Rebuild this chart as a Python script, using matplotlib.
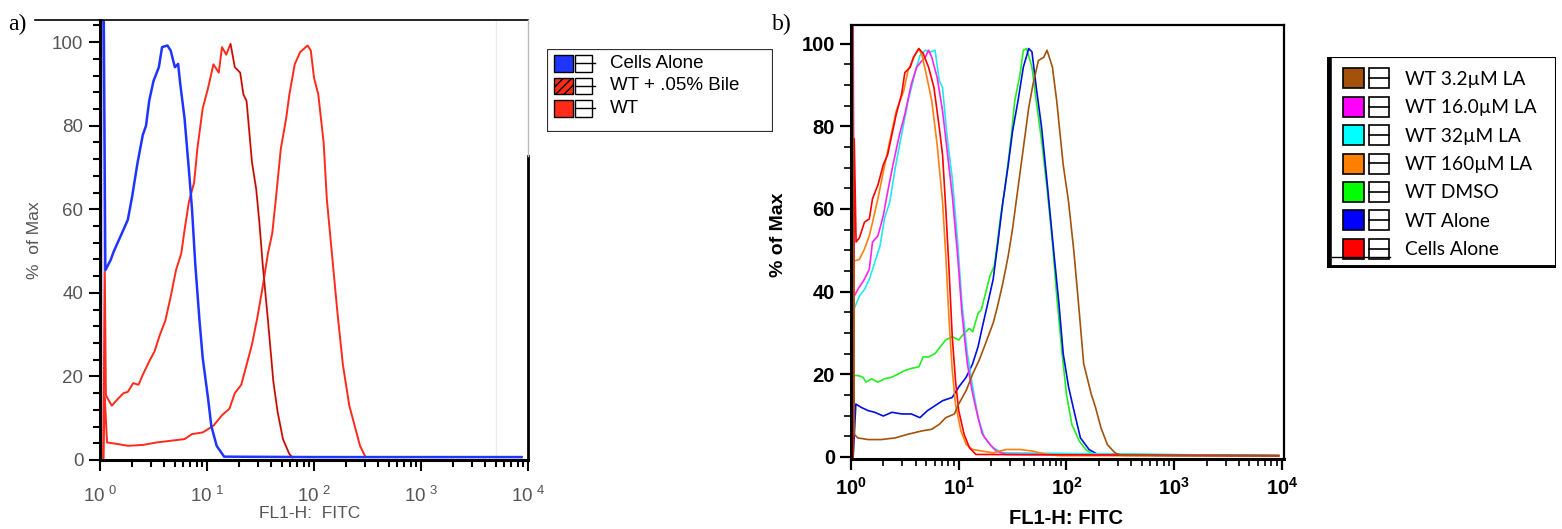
import matplotlib
matplotlib.use("Agg")
import matplotlib.pyplot as plt
from matplotlib.patches import Rectangle
from matplotlib.lines import Line2D
from matplotlib.ticker import FixedLocator, MultipleLocator, NullFormatter
import numpy as np

plt.rcParams["font.family"] = ["Liberation Sans", "DejaVu Sans"]
plt.rcParams["mathtext.fontset"] = "custom"
plt.rcParams["mathtext.rm"] = "Liberation Sans"
plt.rcParams["mathtext.bf"] = "Liberation Sans:bold"

# ---------------- data: panel a (x = log10 FL1-H, y = % of Max) ----------------
a_cells_x = [0.0, 0.01, 0.035, 0.05, 0.1, 0.13, 0.2, 0.26, 0.3, 0.35, 0.4, 0.43, 0.46, 0.5,
             0.55, 0.58, 0.63, 0.66, 0.7, 0.73, 0.75, 0.79, 0.83, 0.86, 0.89, 0.93, 0.96,
             1.01, 1.04, 1.09, 1.16, 2.0, 3.0, 3.94]
a_cells_y = [0, 106, 106, 45.4, 47.9, 50, 54, 57.5, 63, 71, 77.8, 80, 86, 90.7,
             94, 98.8, 99.2, 98, 94, 94.8, 90, 81.8, 69.7, 60, 47, 33.3, 24.4,
             14.7, 8.2, 3.4, 0.8, 0.7, 0.7, 0.7]

a_bile_x = [0.03, 0.045, 0.055, 0.11, 0.17, 0.22, 0.26, 0.31, 0.36, 0.4, 0.46, 0.51, 0.56,
            0.61, 0.66, 0.71, 0.76, 0.79, 0.83, 0.88, 0.91, 0.96, 1.01, 1.06, 1.11, 1.14,
            1.18, 1.22, 1.26, 1.31, 1.34, 1.37, 1.42, 1.46, 1.49, 1.52, 1.57, 1.62, 1.66,
            1.71, 1.77, 1.8]
a_bile_y = [0, 45, 15.5, 13, 14.7, 16, 16.3, 18.4, 18, 20.4, 23.6, 26, 30,
            33.3, 39, 45.4, 49.5, 55, 61.6, 66.5, 74.5, 84.2, 89, 94.7, 92.7, 98.8,
            97, 99.6, 94, 92.7, 87.5, 85.9, 71.3, 64.8, 56.7, 47, 33.3, 18.8, 11.5,
            5, 1.4, 0.6]

a_wt_x = [0.03, 0.045, 0.066, 0.17, 0.26, 0.4, 0.53, 0.66, 0.79, 0.86, 0.96, 1.06, 1.14,
          1.21, 1.26, 1.32, 1.37, 1.42, 1.47, 1.52, 1.57, 1.61, 1.64, 1.69, 1.74, 1.77,
          1.82, 1.87, 1.94, 1.97, 2.0, 2.04, 2.09, 2.12, 2.17, 2.22, 2.27, 2.33, 2.38,
          2.43, 2.48]
a_wt_y = [0, 15, 4.2, 3.8, 3.4, 3.6, 4.2, 4.6, 5, 6.2, 6.6, 8.2, 10.7,
          12.3, 16, 18, 22.8, 27.6, 34, 41.4, 49.5, 54.3, 61.6, 74.5, 81.8, 87.5,
          94.7, 97.6, 99.2, 98, 91.5, 87.5, 76, 62.4, 48.7, 35, 22.8, 13, 8.2,
          3.4, 0.8]

a_labels = ["Cells Alone", "WT + .05% Bile", "WT"]
a_colors = ["#1f35ff", "#ff2a1a", "#ff2a1a"]

# ---------------- data: panel b ----------------
b_la32_x = [0.0, 0.005, 0.015, 0.03, 0.063, 0.16, 0.28, 0.41, 0.53, 0.66, 0.75, 0.82, 0.88,
            0.96, 1.0, 1.07, 1.13, 1.19, 1.25, 1.32, 1.36, 1.41, 1.46, 1.5, 1.55, 1.6,
            1.65, 1.69, 1.74, 1.79, 1.82, 1.87, 1.91, 1.97, 2.02, 2.07, 2.12, 2.16, 2.23,
            2.27, 2.32, 2.38, 2.45, 2.51, 3.0, 3.97]
b_la32_y = [0, 106, 106, 5.5, 4.6, 4.2, 4.2, 4.6, 5.5, 6.3, 6.7, 7.9, 9.5,
            10.4, 12.8, 16.1, 20.1, 23.4, 27.5, 32.4, 36.4, 42.1, 48.7, 55.2, 65, 74.7,
            84.5, 90.2, 95.9, 96.7, 98.4, 94.3, 86.1, 70.7, 61.7, 49.5, 34.8, 22.6, 15.2,
            12, 7.1, 3, 1, 0.4, 0.3, 0.3]

b_la16_x = [0.01, 0.02, 0.03, 0.063, 0.125, 0.17, 0.2, 0.25, 0.3, 0.34, 0.39, 0.45, 0.5,
            0.56, 0.61, 0.66, 0.69, 0.72, 0.75, 0.8, 0.85, 0.89, 0.94, 0.99, 1.03, 1.08,
            1.13, 1.18, 1.22, 1.29, 1.35, 1.44, 2.5, 3.97]
b_la16_y = [0, 106, 38.9, 40.5, 43, 45.4, 52, 53.5, 58.4, 64.1, 70.7, 78, 82.9,
            90.2, 94.3, 95.9, 96.7, 98.4, 96.7, 91.8, 83.7, 74.7, 63.3, 48.7, 34.8, 22.6,
            15.2, 9.5, 5.5, 3, 1.4, 0.6, 0.4, 0.3]

b_la32b_x = [0.015, 0.025, 0.078, 0.125, 0.17, 0.22, 0.27, 0.31, 0.36, 0.41, 0.47, 0.53, 0.6,
             0.64, 0.69, 0.74, 0.78, 0.82, 0.85, 0.89, 0.94, 0.99, 1.03, 1.08, 1.13, 1.18,
             1.24, 1.32, 1.41, 3.97]
b_la32b_y = [0, 35.6, 38.9, 40.5, 43, 47, 51.1, 57.6, 61.7, 69.8, 78, 86.1, 93.5,
             97.1, 98.4, 98, 98.4, 91, 89.4, 78, 67.4, 52, 37.2, 25, 16.9, 9.5,
             4.6, 2.2, 1, 0.3]

b_la160_x = [0.02, 0.03, 0.078, 0.125, 0.17, 0.2, 0.25, 0.3, 0.36, 0.42, 0.49, 0.53, 0.6,
             0.63, 0.66, 0.705, 0.75, 0.8, 0.85, 0.88, 0.91, 0.94, 0.97, 1.02, 1.07, 1.13,
             1.22, 1.32, 1.44, 1.57, 1.69, 1.82, 1.94, 3.97]
b_la160_y = [0, 47.4, 47.8, 50.3, 53.5, 56.8, 62.5, 69, 76.4, 83.7, 88.6, 93.5, 97.6,
             98.8, 97.1, 91.8, 86.1, 75.5, 61.7, 48.7, 33.2, 21, 12.8, 6.3, 3, 1.8,
             1.4, 1.0, 1.8, 1.8, 1.4, 0.6, 0.3, 0.3]

b_dmso_x = [0.02, 0.03, 0.063, 0.11, 0.14, 0.19, 0.25, 0.31, 0.38, 0.44, 0.5, 0.56, 0.63,
            0.67, 0.72, 0.78, 0.83, 0.88, 0.94, 1.0, 1.05, 1.1, 1.13, 1.18, 1.21, 1.25,
            1.29, 1.33, 1.36, 1.39, 1.43, 1.46, 1.49, 1.52, 1.57, 1.6, 1.63, 1.68, 1.72,
            1.77, 1.82, 1.87, 1.91, 1.96, 2.0, 2.05, 2.12, 2.18, 2.24, 3.97]
b_dmso_y = [0, 19.7, 19.7, 19.3, 18.1, 18.9, 18.1, 18.9, 19.3, 20.1, 20.9, 21.4, 21.8,
            24.2, 24.2, 25, 26.7, 28.3, 29.1, 28.3, 29.9, 31.1, 30.3, 34.8, 35.6, 39.7,
            43.8, 46.2, 51.9, 58.4, 65, 71.5, 78, 86.1, 92.7, 98.4, 98.8, 94.3, 86.1,
            76.4, 65, 51.9, 38.9, 25, 15.2, 7.9, 3.8, 1.8, 0.7, 0.3]

b_wtal_x = [0.02, 0.045, 0.094, 0.16, 0.22, 0.3, 0.38, 0.47, 0.56, 0.64, 0.71, 0.78, 0.85,
            0.94, 1.0, 1.07, 1.13, 1.18, 1.22, 1.27, 1.32, 1.36, 1.41, 1.46, 1.5, 1.55,
            1.6, 1.65, 1.68, 1.72, 1.77, 1.82, 1.88, 1.93, 1.97, 2.02, 2.07, 2.13, 2.21,
            2.29, 3.97]
b_wtal_y = [0, 12.8, 12, 11.2, 10.8, 9.9, 10.8, 10.4, 10.4, 9.5, 11.2, 12.4, 13.6,
            14.4, 16.9, 19.3, 22.6, 26.7, 31.5, 37.2, 43, 51.1, 61.7, 70.7, 78.8, 86.1,
            94.3, 98.8, 98, 89.4, 79.6, 66.6, 50.3, 37.2, 25, 16.9, 11.2, 4.6, 1.8,
            0.6, 0.3]

b_cells_x = [0.02, 0.03, 0.047, 0.078, 0.125, 0.17, 0.2, 0.25, 0.3, 0.34, 0.38, 0.42, 0.47,
             0.5, 0.55, 0.58, 0.63, 0.67, 0.72, 0.77, 0.82, 0.85, 0.88, 0.91, 0.94, 0.97,
             1.0, 1.05, 1.1, 1.16, 3.97]
b_cells_y = [0, 77, 52, 53, 56.8, 57.6, 62.5, 65.8, 70.7, 73.1, 78, 82.9, 87.8,
             93, 94.3, 96.7, 98.8, 97.6, 94.3, 89.4, 79.6, 73.1, 60, 45.4, 29.1, 18.5,
             11.2, 5.5, 2.2, 0.6, 0.3]

b_labels = ["WT 3.2µM LA", "WT 16.0µM LA", "WT 32µM LA", "WT 160µM LA",
            "WT DMSO", "WT Alone", "Cells Alone"]
b_colors = ["#a3520c", "#ff00ff", "#00ffff", "#ff8000", "#00ff00", "#0000ff", "#ff0000"]
b_line_colors = ["#a3520c", "#ff22ee", "#22e8f0", "#ff7f10", "#22ee22", "#0010e0", "#ff0000"]

decades = [0, 1, 2, 3, 4]

fig = plt.figure(figsize=(15.62, 5.29), dpi=100)
W, H = 1562, 529


def fax(x0, y0, x1, y1):
    # pixel box -> figure axes
    return fig.add_axes([x0 / W, 1 - y1 / H, (x1 - x0) / W, (y1 - y0) / H])


def minor_log():
    locs = []
    for d in range(4):
        for k in range(2, 10):
            locs.append(k * 10 ** d)
    return locs


# ---------------- panel a ----------------
ax = fax(100, 20, 528, 460)
ax.set_xscale("log")
ax.set_xlim(1, 10 ** 4)
ax.set_ylim(0, 105.3)
ax.axvline(10 ** 3.7, color="#ececec", lw=1)
ax.plot(10 ** np.array(a_wt_x), a_wt_y, color=a_colors[2], lw=1.4)
bx = 10 ** np.array(a_bile_x)
ax.plot(bx, a_bile_y, color=a_colors[1], lw=1.4)
pk = int(np.argmax(a_bile_y))
ax.plot(bx[pk:], a_bile_y[pk:], color="#2a0000", lw=0.6, alpha=0.55)
ax.plot(10 ** np.array(a_cells_x), a_cells_y, color=a_colors[0], lw=1.8)
ax.axvspan(1.0, 1.09, color="#d8ccf4", zorder=0)

for s in ["top", "right"]:
    ax.spines[s].set_visible(False)
ax.spines["left"].set_linewidth(2.2)
ax.spines["bottom"].set_linewidth(2.2)
ax.add_line(Line2D([0, 1], [1, 1], transform=ax.transAxes, color="black", lw=1.2, clip_on=False))
ax.add_line(Line2D([1, 1], [0, 0.69], transform=ax.transAxes, color="black", lw=2, clip_on=False))
ax.add_line(Line2D([1, 1], [0.69, 1], transform=ax.transAxes, color="#bbbbbb", lw=1, clip_on=False))
fig.add_artist(Line2D([35 / W, 100 / W], [1 - 20 / H, 1 - 20 / H], color="black", lw=1.2))

ax.xaxis.set_major_locator(FixedLocator([10 ** d for d in decades]))
ax.xaxis.set_minor_locator(FixedLocator(minor_log()))
ax.xaxis.set_minor_formatter(NullFormatter())
ax.set_xticklabels([r"$10^{\ %d}$" % d for d in decades])
ax.yaxis.set_major_locator(MultipleLocator(20))
ax.yaxis.set_minor_locator(MultipleLocator(4))
ax.tick_params(axis="both", which="major", length=8, width=1.5, color="black",
               labelcolor="#555555", labelsize=13.5)
ax.tick_params(axis="x", which="major", pad=10)
ax.tick_params(axis="y", which="major", pad=4)
ax.tick_params(axis="both", which="minor", length=5, width=1.5)
ax.set_ylabel("%  of Max", color="#555555", fontsize=12.5)
ax.yaxis.set_label_coords(-0.135, 0.5)
ax.set_xlabel("FL1-H:  FITC", color="#555555", fontsize=12.5)
ax.xaxis.set_label_coords(0.49, -0.105)

fig.text(8 / W, 1 - 24 / H, "a)", family="Liberation Serif", fontsize=17, va="center")

# legend a
la = fax(547, 49, 773, 132)
la.set_xlim(0, 226)
la.set_ylim(83, 0)
la.axis("off")
la.add_patch(Rectangle((0, 0), 226, 83, fill=False, ec="#333333", lw=1.6))
for i, (lab, c) in enumerate(zip(a_labels, a_colors)):
    yc = 14.5 + i * 22.5
    hatch = "////" if i == 1 else None
    la.add_patch(Rectangle((7, yc - 8.5), 19, 17, fc=c, ec="black", lw=1, hatch=hatch))
    la.add_patch(Rectangle((28, yc - 8.5), 17, 17, fc="white", ec="black", lw=1))
    la.plot([28, 48], [yc, yc], color="black", lw=1)
    la.text(63, yc, lab, fontsize=13.5, va="center", ha="left")

# ---------------- panel b ----------------
bx_ = fax(851, 25, 1284, 459)
bx_.set_xscale("log")
bx_.set_xlim(1, 10 ** 4.02)
bx_.set_ylim(-0.5, 104.5)
b_series = [(b_la32_x, b_la32_y), (b_la16_x, b_la16_y), (b_la32b_x, b_la32b_y),
            (b_la160_x, b_la160_y), (b_dmso_x, b_dmso_y), (b_wtal_x, b_wtal_y),
            (b_cells_x, b_cells_y)]
order = [4, 5, 2, 1, 3, 6, 0]
for i in order:
    xs, ys = b_series[i]
    bx_.plot(10 ** np.array(xs), ys, color=b_line_colors[i], lw=1.2)

for s in bx_.spines.values():
    s.set_linewidth(1.6)
bx_.spines["left"].set_linewidth(2.2)
bx_.spines["bottom"].set_linewidth(2.2)
bx_.xaxis.set_major_locator(FixedLocator([10 ** d for d in decades]))
bx_.xaxis.set_minor_locator(FixedLocator(minor_log()))
bx_.xaxis.set_minor_formatter(NullFormatter())
bx_.set_xticklabels([r"$\mathbf{10^{%d}}$" % d for d in decades])
bx_.yaxis.set_major_locator(MultipleLocator(20))
bx_.yaxis.set_minor_locator(MultipleLocator(5))
bx_.tick_params(axis="both", which="major", length=8, width=1.6, labelsize=14.5)
bx_.tick_params(axis="x", which="major", pad=5)
bx_.tick_params(axis="both", which="minor", length=5, width=1.2)
for t in bx_.get_yticklabels():
    t.set_fontweight("bold")
bx_.set_ylabel("% of Max", fontsize=14, fontweight="bold")
bx_.yaxis.set_label_coords(-0.148, 0.516)
bx_.set_xlabel("FL1-H: FITC", fontsize=14.5, fontweight="bold")
bx_.xaxis.set_label_coords(0.497, -0.115)

fig.text(772 / W, 1 - 24 / H, "b)", family="Liberation Serif", fontsize=17, va="center")

# legend b
lb = fax(1327, 57, 1556, 268)
lb.set_xlim(0, 229)
lb.set_ylim(211, 0)
lb.axis("off")
lb.add_patch(Rectangle((0, 0), 229, 211, fill=False, ec="black", lw=1.5))
lb.plot([1.5, 1.5], [0, 211], color="black", lw=4, solid_capstyle="butt")
lb.plot([0, 229], [209.5, 209.5], color="black", lw=3.5, solid_capstyle="butt")
lb.plot([5, 63], [200, 200], color="black", lw=1)
for i, (lab, c) in enumerate(zip(b_labels, b_colors)):
    yc = 21.3 + i * 28.4
    lb.add_patch(Rectangle((16, yc - 10), 21, 20, fc=c, ec="black", lw=1.2))
    lb.add_patch(Rectangle((42, yc - 10), 20, 20, fc="white", ec="black", lw=1.2))
    lb.plot([42, 62], [yc, yc], color="black", lw=1.2)
    lb.text(78, yc + 1, lab, fontsize=13.8, va="center", ha="left", family=["Lato", "DejaVu Sans"])

fig.savefig("out.png", dpi=100)
